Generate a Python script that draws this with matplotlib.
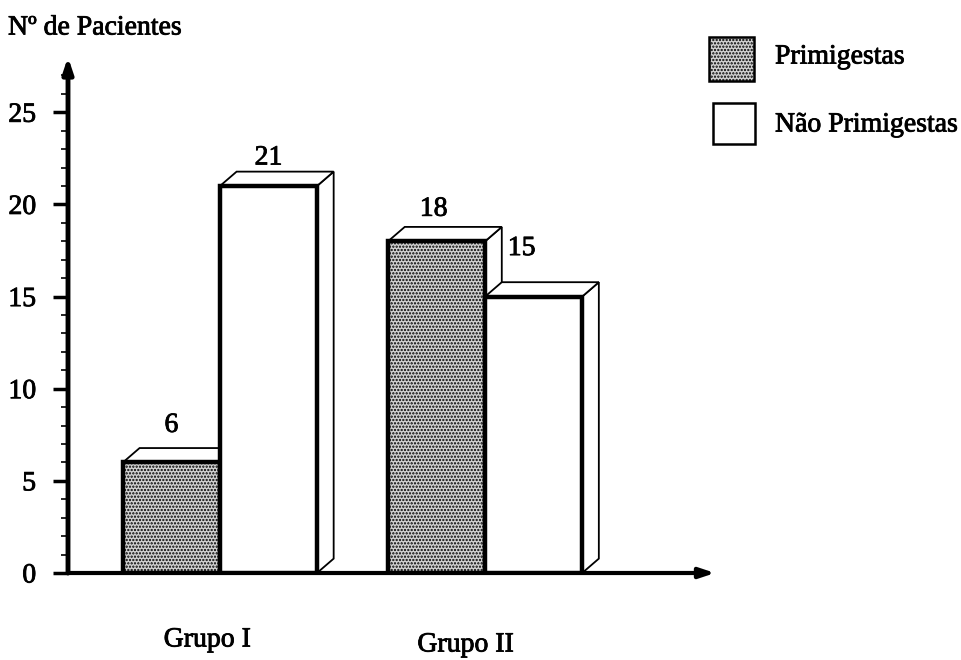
import matplotlib
matplotlib.use("Agg")
import matplotlib.pyplot as plt
import matplotlib.patheffects as pe
from matplotlib.patches import Polygon, Rectangle
from matplotlib.transforms import blended_transform_factory

# Data
groups = ["Grupo I", "Grupo II"]
series = ["Primigestas", "Não Primigestas"]
primigestas = [6, 18]
nao_primigestas = [21, 15]
yticks_major = [0, 5, 10, 15, 20, 25]

plt.rcParams["font.family"] = ["Liberation Serif", "DejaVu Serif"]
plt.rcParams["hatch.linewidth"] = 1.1
plt.rcParams["hatch.color"] = "#3a3a3a"

FS = 20
heavy = [pe.withStroke(linewidth=0.6, foreground="black")]

W, H = 961, 660
fig = plt.figure(figsize=(W / 100, H / 100), dpi=100)

# Axes box in pixels: origin at (68, 573), x to 715, y up to 57
x0, y0, x1, y1 = 68, 573, 715, 57
ax = fig.add_axes([x0 / W, (H - y0) / H, (x1 - x0) / W, (y0 - y1) / H])
ax.set_xlim(0, 6.6)
ax.set_ylim(0, 28)
ax.patch.set_alpha(0)
for s in ax.spines.values():
    s.set_visible(False)

# Axes arrows
ax.annotate("", xy=(0, 1.0), xytext=(0, 0), xycoords="axes fraction",
            arrowprops=dict(arrowstyle="-|>,head_length=0.9,head_width=0.3",
                            lw=3.5, color="black", shrinkA=0, shrinkB=0))
ax.annotate("", xy=(1.0, 0), xytext=(0, 0), xycoords="axes fraction",
            arrowprops=dict(arrowstyle="-|>,head_length=0.9,head_width=0.3",
                            lw=3, color="black", shrinkA=0, shrinkB=0))

# Y ticks
ax.set_yticks(yticks_major)
ax.set_yticklabels([str(v) for v in yticks_major], fontsize=FS)
for t in ax.get_yticklabels():
    t.set_path_effects(heavy)
ax.set_yticks(range(0, 28), minor=True)
ax.tick_params(axis="y", which="major", length=11, width=2.5, pad=12, direction="out")
ax.tick_params(axis="y", which="minor", length=5, width=1.2, direction="out")
ax.set_xticks([])

# 3-D bar geometry
bar_w = 0.99
dx, dy = 0.17, 0.78          # depth offset in data units
centers = [1.55, 4.255]
fills = [dict(facecolor="#d2d2d2", hatch="....."), dict(facecolor="white", hatch=None)]
label_offsets = {(0, 0): (0, 37), (0, 1): (0, 28), (1, 0): (-3, 32), (1, 1): (-12, 48)}


def bar3d(x, h, style):
    xr = x + bar_w
    side = Polygon([(xr, h), (xr + dx, h + dy), (xr + dx, dy), (xr, 0)],
                   closed=True, facecolor="white", edgecolor="black", lw=1.3, zorder=3)
    top = Polygon([(x, h), (x + dx, h + dy), (xr + dx, h + dy), (xr, h)],
                  closed=True, facecolor="white", edgecolor="black", lw=1.3, zorder=3)
    front = Rectangle((x, 0), bar_w, h, facecolor=style["facecolor"],
                      hatch=style["hatch"], edgecolor="black", lw=3.2, zorder=3)
    for p in (side, top, front):
        ax.add_patch(p)


for g, c in enumerate(centers):
    for s, vals in enumerate([primigestas, nao_primigestas]):
        x = c - bar_w if s == 0 else c
        bar3d(x, vals[g], fills[s])
        ox, oy = label_offsets[(g, s)]
        ax.annotate(str(vals[g]), xy=(x + bar_w / 2, vals[g]), xytext=(ox, oy),
                    textcoords="offset pixels", ha="center", va="center",
                    fontsize=FS, path_effects=heavy)

# Group labels below the axis
tr = blended_transform_factory(ax.transData, fig.transFigure)
group_shift = [-0.13, -0.2]
for c, name, sh, yy in zip(centers, groups, group_shift, [640, 645]):
    ax.text(c + sh, (H - yy) / H, name, transform=tr, ha="center", va="center",
            fontsize=FS, path_effects=heavy)

# Y axis title
fig.text(8 / W, (H - 28) / H, "Nº de Pacientes", ha="left", va="center",
         fontsize=FS, path_effects=heavy)

# Legend
leg_boxes = [(709, 37, 45, 44), (713, 103, 42, 41)]
leg_text_y = [57, 125]
for (bx, by, bw, bh), style, name, ty in zip(leg_boxes, fills, series, leg_text_y):
    fig.add_artist(Rectangle((bx / W, (H - by - bh) / H), bw / W, bh / H,
                             transform=fig.transFigure, facecolor=style["facecolor"],
                             hatch=style["hatch"], edgecolor="black", lw=1.8))
    fig.text(775 / W, (H - ty) / H, name, ha="left", va="center",
             fontsize=FS, path_effects=heavy)

fig.savefig("out.png", dpi=100)
